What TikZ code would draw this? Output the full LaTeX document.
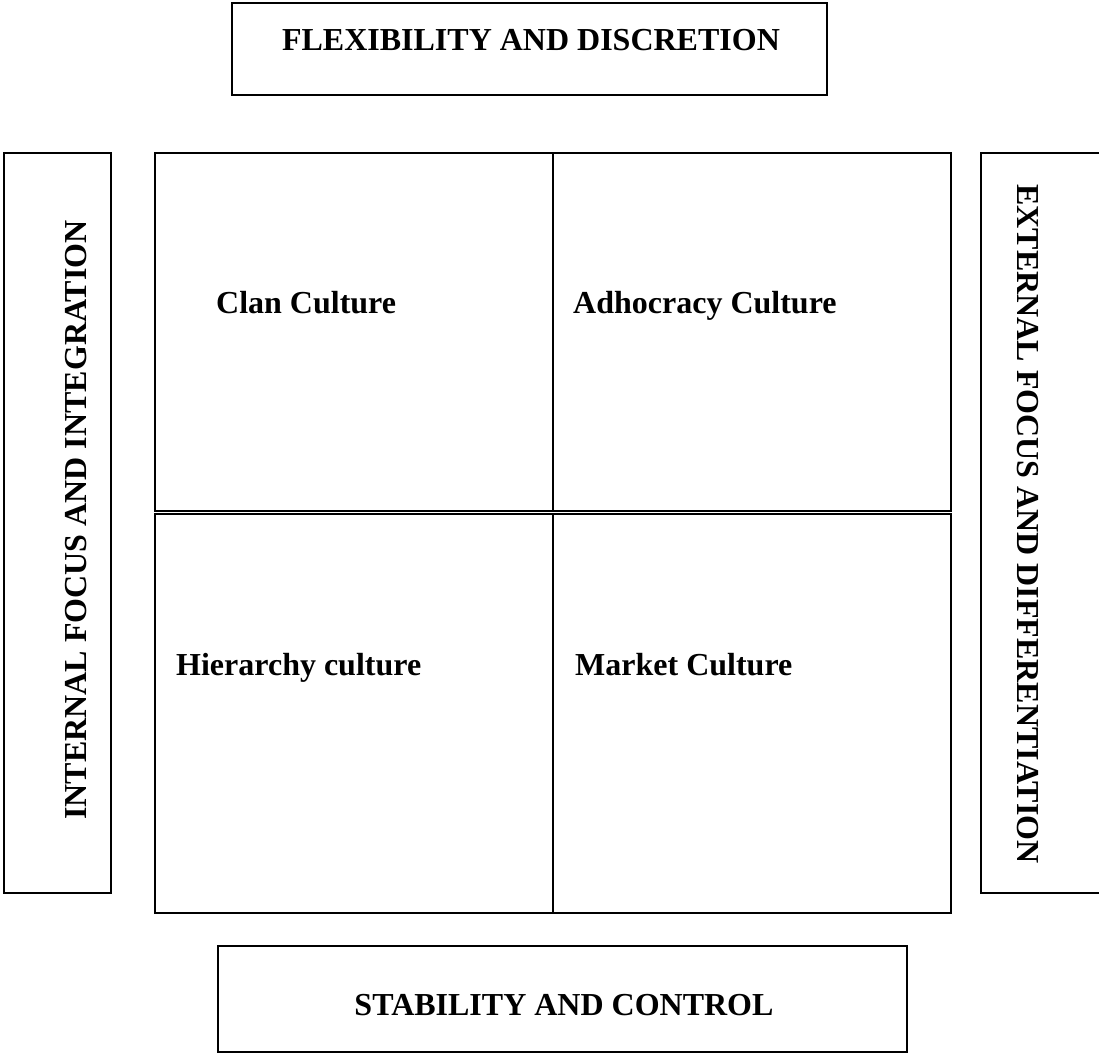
\documentclass[tikz,border=0pt]{standalone}
\usepackage{fontspec}
\setmainfont{Liberation Serif}

\tikzset{
  frame/.style={draw=black, line width=1.8pt},
  lbl/.style={font=\fontsize{32}{38}\selectfont\bfseries, inner sep=0pt},
}

\begin{document}
\begin{tikzpicture}[x=1pt,y=-1pt]
  \useasboundingbox (0,0) rectangle (1099,1055);
  %axis boxes
  \draw[frame] (232,3) rectangle (827,95);
  \draw[frame] (4,153) rectangle (111,893);
  \draw[frame] (981,153) rectangle (1104,893);
  \draw[frame] (218,946) rectangle (907,1052);
  \node[lbl,anchor=base] (flex) at (531,50) {FLEXIBILITY AND DISCRETION};
  \node[lbl,anchor=base,rotate=90] (internal) at (86,520) {INTERNAL FOCUS AND INTEGRATION};
  \node[lbl,anchor=base,rotate=-90] (external) at (1017,524) {EXTERNAL FOCUS AND DIFFERENTIATION};
  \node[lbl,anchor=base] (stab) at (564,1015) {STABILITY AND CONTROL};

  %quadrants
  \draw[frame] (155,153) rectangle (553,511);
  \draw[frame] (553,153) rectangle (951,511);
  \draw[frame] (155,514) rectangle (553,913);
  \draw[frame] (553,514) rectangle (951,913);
  \node[lbl,anchor=base west] (clan) at (216,313) {Clan Culture};
  \node[lbl,anchor=base west] (adhoc) at (573,313) {Adhocracy Culture};
  \node[lbl,anchor=base west] (hier) at (176,675) {Hierarchy culture};
  \node[lbl,anchor=base west] (market) at (575,675) {Market Culture};
\end{tikzpicture}
\end{document}
